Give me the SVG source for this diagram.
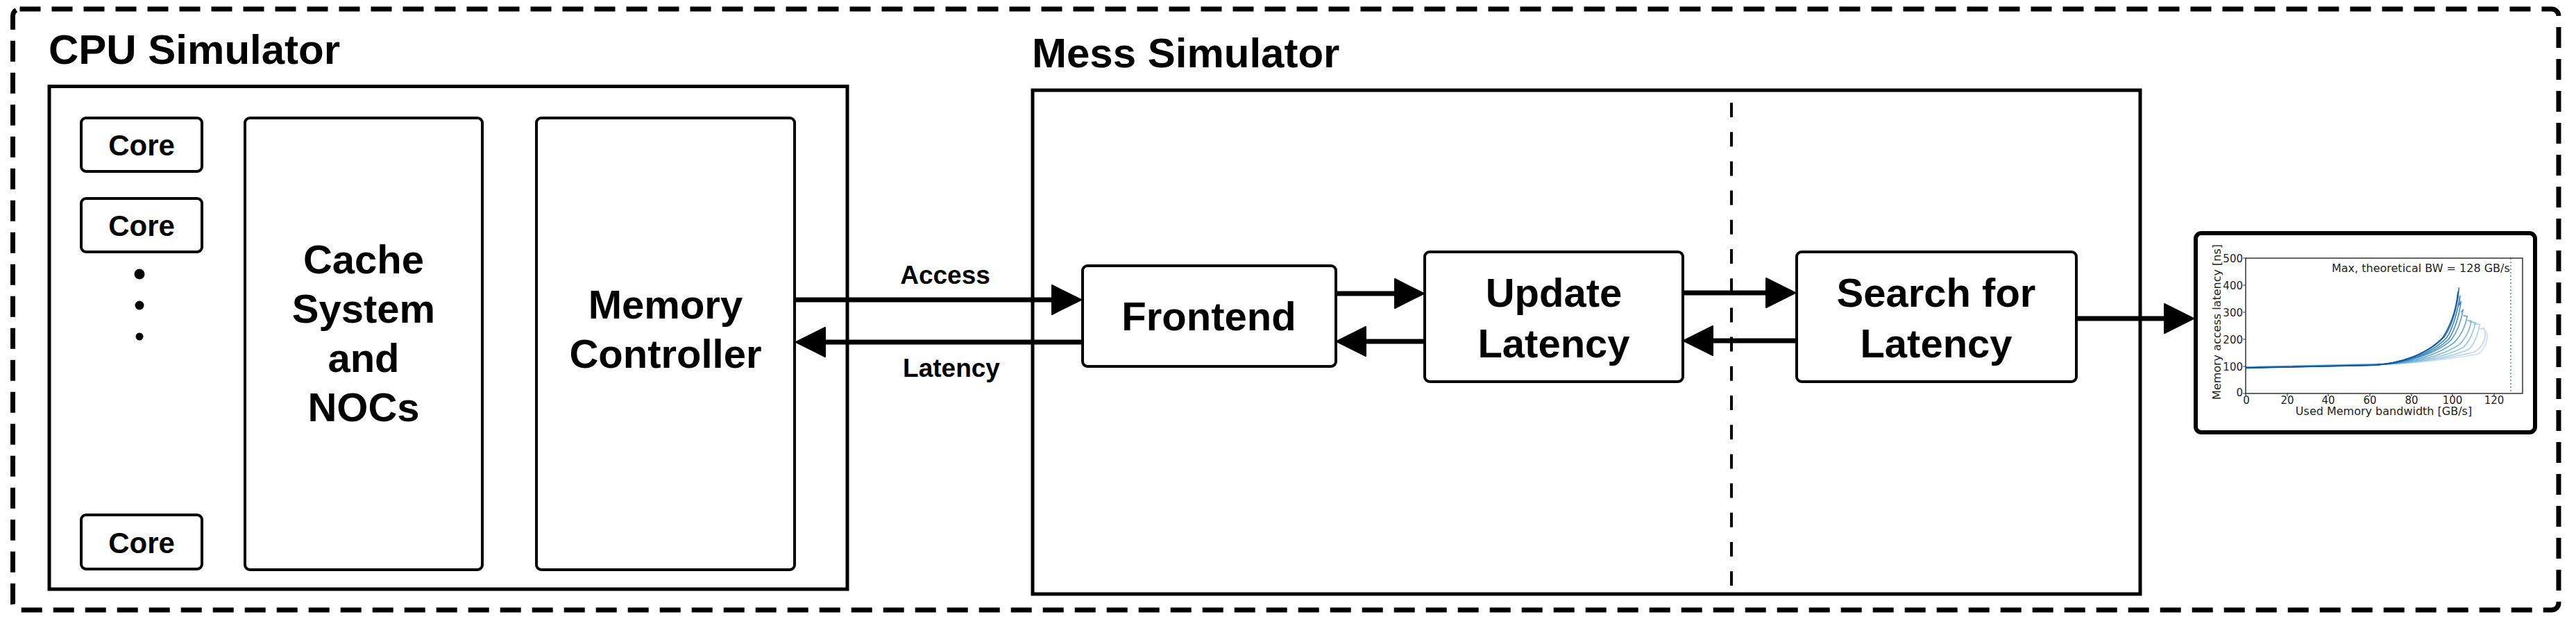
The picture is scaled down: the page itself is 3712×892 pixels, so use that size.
<svg xmlns="http://www.w3.org/2000/svg" width="3712" height="892" viewBox="0 0 3712 892">
<defs>
<style>
.lbl{font-family:"Liberation Sans",Arial,Helvetica,sans-serif;font-weight:bold;fill:#000}
.sec{font-size:60px}
.big{font-size:58px;text-anchor:middle}
.core{font-size:42px;text-anchor:middle}
.elbl{font-size:37px;text-anchor:middle}
.frame{fill:#fff;stroke:#000;stroke-width:5}
.node{fill:#fff;stroke:#000;stroke-width:4}
.edge{stroke:#000;stroke-width:7;fill:none}
.mpl{font-family:"DejaVu Sans",sans-serif;fill:#222;font-size:15px}
.curve{fill:none;stroke-width:1.6;vector-effect:non-scaling-stroke;stroke-linejoin:round}
</style>
<marker id="ah" markerUnits="userSpaceOnUse" viewBox="0 0 44 44" markerWidth="44" markerHeight="44" refX="23" refY="22" orient="auto">
<path d="M1,1 L43,22 L1,43 z" fill="#000" stroke="#000" stroke-width="2" stroke-linejoin="round"/>
</marker>
</defs>
<rect width="3712" height="892" fill="#fff"/>

<g id="outer-border">
<rect x="18.5" y="13" width="3668.5" height="866" rx="10" fill="none" stroke="#000" stroke-width="7" stroke-dasharray="30 16"/>
</g>

<g id="cpu-simulator">
<text class="lbl sec" x="70" y="92">CPU Simulator</text>
<rect class="frame" x="71" y="124.5" width="1150" height="724.5"/>
</g>

<g id="core-1"><rect class="node" x="117" y="170" width="174" height="77" rx="7" stroke-width="3.5"/><text class="lbl core" x="204" y="224">Core</text></g>
<g id="core-2"><rect class="node" x="117" y="286" width="174" height="77" rx="7" stroke-width="3.5"/><text class="lbl core" x="204" y="340">Core</text></g>
<g id="core-dots"><circle cx="201" cy="395" r="7.5"/><circle cx="201" cy="440" r="6.5"/><circle cx="201" cy="485" r="5.5"/></g>
<g id="core-3"><rect class="node" x="117" y="742" width="174" height="78" rx="7" stroke-width="3.5"/><text class="lbl core" x="204" y="797">Core</text></g>

<g id="cache-system">
<rect class="node" x="353" y="170" width="342" height="651" rx="7"/>
<text class="lbl big" x="524" y="394">Cache</text>
<text class="lbl big" x="524" y="465">System</text>
<text class="lbl big" x="524" y="536">and</text>
<text class="lbl big" x="524" y="607">NOCs</text>
</g>

<g id="memory-controller">
<rect class="node" x="773" y="170" width="372" height="651" rx="7"/>
<text class="lbl big" x="959" y="459">Memory</text>
<text class="lbl big" x="959" y="530">Controller</text>
</g>

<g id="mess-simulator">
<text class="lbl sec" x="1487" y="97">Mess Simulator</text>
<rect class="frame" x="1488" y="130" width="1596" height="726" stroke-width="6"/>
<line x1="2495" y1="148" x2="2495" y2="844" stroke="#000" stroke-width="4" stroke-dasharray="21 21.2"/>
</g>

<g id="frontend">
<rect class="node" x="1560" y="383" width="365" height="145" rx="7"/>
<text class="lbl big" x="1742" y="476">Frontend</text>
</g>

<g id="update-latency">
<rect class="node" x="2053" y="363" width="372" height="187" rx="7"/>
<text class="lbl big" x="2239" y="442">Update</text>
<text class="lbl big" x="2239" y="515">Latency</text>
</g>

<g id="search-latency">
<rect class="node" x="2589" y="363" width="403" height="187" rx="7"/>
<text class="lbl big" x="2790" y="442">Search for</text>
<text class="lbl big" x="2790" y="515">Latency</text>
</g>

<g id="connectors">
<path class="edge" d="M1146,432 H1538" marker-end="url(#ah)"/>
<path class="edge" d="M1559,493 H1167" marker-end="url(#ah)"/>
<path class="edge" d="M1925,423 H2032" marker-end="url(#ah)"/>
<path class="edge" d="M2053,492 H1946" marker-end="url(#ah)"/>
<path class="edge" d="M2425,422 H2567" marker-end="url(#ah)"/>
<path class="edge" d="M2589,491 H2446" marker-end="url(#ah)"/>
<path class="edge" d="M2992,459 H3141" marker-end="url(#ah)"/>
<text class="lbl elbl" x="1362" y="409">Access</text>
<text class="lbl elbl" x="1371" y="543">Latency</text>
</g>

<g id="latency-chart">
<rect x="3164" y="336" width="489" height="287" rx="8" fill="#fff" stroke="#000" stroke-width="6"/>
<g id="chart-curves" transform="translate(3236,567) scale(2.984,-0.39)">
<path class="curve" stroke="#c6dbef" stroke-opacity="0.9" d="M0,98 L76,112 C92,118 104,135 112,145 C115,160 118,200 116,232"/>
<path class="curve" stroke="#b3d1ea" stroke-opacity="0.9" d="M0,98 L74,111 C90,118 102,138 110,152 C114,165 117,205 115,242 L113,238"/>
<path class="curve" stroke="#9ecae1" stroke-opacity="0.9" d="M0,97 L72,110 C88,117 100,140 107,160 C110,175 112,215 113,255 L110,258"/>
<path class="curve" stroke="#85bcdc" stroke-opacity="0.9" d="M0,97 L70,109 C86,116 98,142 105,170 C108,190 110,230 111,262 L108,265"/>
<path class="curve" stroke="#6baed6" stroke-opacity="0.9" d="M0,97 L68,108 C84,115 96,145 103,180 C106,200 108,230 109,268 L107,270"/>
<path class="curve" stroke="#4f9bcb" stroke-opacity="0.9" d="M0,96 L66,107 C82,114 94,148 101,190 C104,215 106,245 107,285 L105,288"/>
<path class="curve" stroke="#4292c6" stroke-opacity="0.9" d="M0,96 L64,106 C80,113 92,150 99,195 C102,225 104,265 105,310 L104,300"/>
<path class="curve" stroke="#2f7fbc" stroke-opacity="0.9" d="M0,95 L63,105 C79,112 91,150 98,200 C101,235 103,285 104,340 L103,325"/>
<path class="curve" stroke="#2171b5" stroke-opacity="0.9" d="M0,95 L62,105 C78,112 90,150 97,205 C100,240 102,290 103.5,360 L103,330"/>
<path class="curve" stroke="#1361a8" stroke-opacity="0.9" d="M0,95 L61,104 C77,111 89,152 96,210 C99,245 102,300 103,390 L102.5,350"/>
<path class="curve" stroke="#08519c" stroke-opacity="0.9" d="M0,94 L60,104 C76,110 88,150 95,205 C98,240 101.5,300 102.5,375 L102,340"/>
</g>
<line x1="3618" y1="372" x2="3618" y2="567" stroke="#4a90c8" stroke-width="1.5" stroke-dasharray="2 3"/>
<rect x="3236" y="372" width="399" height="195" fill="none" stroke="#333" stroke-width="1.5"/>
<path d="M3236,372 h-4 M3236,411 h-4 M3236,450 h-4 M3236,489 h-4 M3236,528 h-4 M3236,567 h-4 M3236,567 v4 M3296,567 v4 M3355,567 v4 M3415,567 v4 M3475,567 v4 M3534,567 v4 M3594,567 v4" stroke="#333" stroke-width="1.2" fill="none"/>
<g class="mpl" text-anchor="end">
<text x="3232" y="378">500</text>
<text x="3232" y="417">400</text>
<text x="3232" y="456">300</text>
<text x="3232" y="495">200</text>
<text x="3232" y="534">100</text>
<text x="3232" y="571">0</text>
</g>
<g class="mpl" text-anchor="middle">
<text x="3237" y="582">0</text>
<text x="3296" y="582">20</text>
<text x="3355" y="582">40</text>
<text x="3415" y="582">60</text>
<text x="3475" y="582">80</text>
<text x="3534" y="582">100</text>
<text x="3594" y="582">120</text>
</g>
<text class="mpl" x="3360" y="392" style="font-size:16px">Max, theoretical BW = 128 GB/s</text>
<text class="mpl" x="3435" y="598" text-anchor="middle" style="font-size:16px">Used Memory bandwidth [GB/s]</text>
<text class="mpl" x="0" y="0" text-anchor="middle" style="font-size:16px" transform="translate(3200,464) rotate(-90)">Memory access latency [ns]</text>
</g>
</svg>
